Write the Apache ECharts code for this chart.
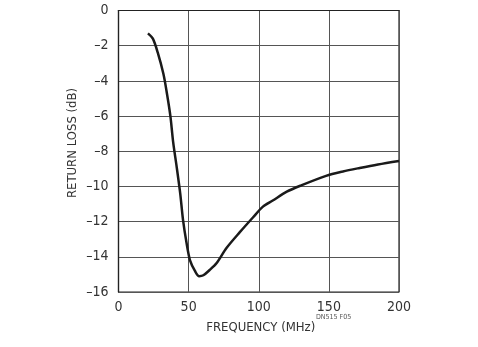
<!DOCTYPE html>
<html><head><meta charset="utf-8">
<script src="https://cdn.jsdelivr.net/npm/echarts@6/dist/echarts.min.js"></script>
<style>html,body{margin:0;padding:0;background:#fff}#c{width:478px;height:347px}</style>
</head><body><div id="c"></div>
<script>
const frequency = [21,24.5,28,32,34.5,37,39,41.5,44,46,48.5,51,54.5,57.5,60.5,65,70,77,86.5,96,103,110,120,130,148,160,172,185,200];
const returnLoss = [-1.3,-1.6,-2.4,-3.6,-4.7,-6.0,-7.5,-8.9,-10.4,-11.9,-13.2,-14.2,-14.8,-15.1,-15.05,-14.75,-14.35,-13.5,-12.6,-11.75,-11.15,-10.8,-10.3,-9.95,-9.4,-9.15,-8.95,-8.75,-8.55];
const xTicks = [0,50,100,150,200];
const yTicks = [0,-2,-4,-6,-8,-10,-12,-14,-16];
const font = '"Liberation Sans Narrow","DejaVu Sans Condensed","Liberation Sans",Arial,sans-serif';
const chart = echarts.init(document.getElementById('c'));
chart.setOption({
  animation:false,
  grid:{left:118.5,right:79,top:10.5,bottom:55,show:true,borderColor:'#222',borderWidth:1.2},
  xAxis:{type:'value',min:xTicks[0],max:xTicks[xTicks.length-1],interval:50,
    name:'FREQUENCY (MHz)',nameLocation:'middle',nameGap:29,
    nameTextStyle:{fontFamily:font,fontSize:13,color:'#333',padding:[0,0,0,4]},
    axisLine:{show:true,lineStyle:{color:'#222',width:1.2}},axisTick:{show:false},
    axisLabel:{fontFamily:font,fontSize:14,color:'#333',margin:8},
    splitLine:{show:true,lineStyle:{color:'#555',width:1}}},
  yAxis:{type:'value',min:yTicks[yTicks.length-1],max:yTicks[0],interval:2,
    axisLine:{show:true,lineStyle:{color:'#222',width:1.2}},axisTick:{show:false},
    axisLabel:{fontFamily:font,fontSize:14,color:'#333',margin:10,
      formatter:v=>String(v).replace('-','\u2013')},
    splitLine:{show:true,lineStyle:{color:'#555',width:1}}},
  series:[{type:'line',data:frequency.map((f,i)=>[f,returnLoss[i]]),smooth:0.3,
    showSymbol:false,lineStyle:{color:'#1a1a1a',width:2.5}}],
  graphic:[
    {type:'text',x:73,y:143,rotation:Math.PI/2,style:{text:'RETURN LOSS (dB)',fontFamily:font,fontSize:13,fill:'#333',align:'center',verticalAlign:'middle'}},
    {type:'text',left:316,top:314,style:{text:'DN515 F05',fontFamily:font,fontSize:7,fill:'#555'}}]
});
</script></body></html>
